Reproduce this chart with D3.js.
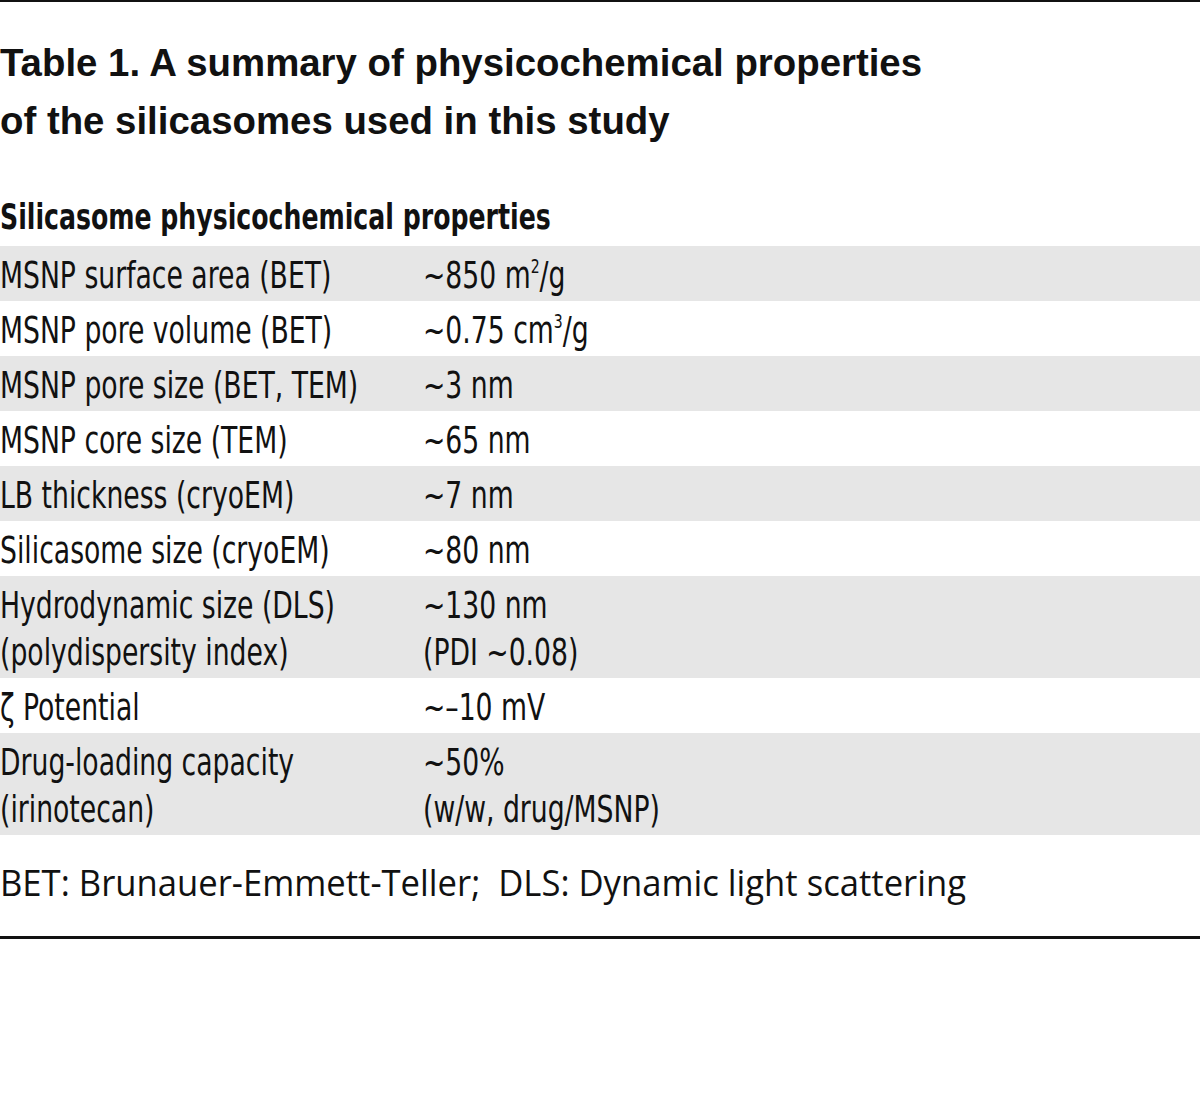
<!DOCTYPE html>
<html>
<head>
<meta charset="utf-8">
<script src="https://cdn.jsdelivr.net/npm/d3@7"></script>
<style>
  body { margin: 0; background: #fff; }
  text { fill: #111; white-space: pre; }
</style>
</head>
<body>
<div id="container"></div>
<script>
const w = 1200;
const h = 1111;

const titleLines = ["Table 1. A summary of physicochemical properties", "of the silicasomes used in this study"];
const sectionHead = "Silicasome physicochemical properties";
const properties = [
  "MSNP surface area (BET)",
  "MSNP pore volume (BET)",
  "MSNP pore size (BET, TEM)",
  "MSNP core size (TEM)",
  "LB thickness (cryoEM)",
  "Silicasome size (cryoEM)",
  "Hydrodynamic size (DLS)\n(polydispersity index)",
  "ζ Potential",
  "Drug-loading capacity\n(irinotecan)"
];
const values = [
  "~850 m^2/g",
  "~0.75 cm^3/g",
  "~3 nm",
  "~65 nm",
  "~7 nm",
  "~80 nm",
  "~130 nm\n(PDI ~0.08)",
  "~–10 mV",
  "~50%\n(w/w, drug/MSNP)"
];
const footnote = "BET: Brunauer-Emmett-Teller;  DLS: Dynamic light scattering";

const condensed = "'Liberation Sans Narrow', 'DejaVu Sans Condensed', sans-serif";
const sx = 0.78;     // squeeze to the narrow look of the original
const tableTop = 246;
const pad = 8;
const lineH = 47;

const svg = d3.select("#container").append("svg")
  .attr("width", w).attr("height", h);

// rules top and bottom
svg.append("rect").attr("x", 0).attr("y", 0).attr("width", w).attr("height", 2).attr("fill", "#111");
svg.append("rect").attr("x", 0).attr("y", 936).attr("width", w).attr("height", 3).attr("fill", "#111");

// title
svg.append("g").attr("transform", "scale(1.01,1)")
  .selectAll("text").data(titleLines).enter().append("text")
  .attr("x", 0)
  .attr("y", (d, i) => 76 + i * 58)
  .attr("font-family", "'Liberation Sans', Arial, sans-serif")
  .attr("font-weight", "bold")
  .attr("font-size", 38)
  .text(d => d);

svg.append("text")
  .attr("transform", "translate(0,229) scale(0.80,1)")
  .attr("font-family", condensed)
  .attr("font-weight", "bold")
  .attr("font-size", 35)
  .text(sectionHead);

// rows
const rows = properties.map((p, i) => {
  const left = p.split("\n");
  const right = values[i].split("\n");
  return { left, right, lines: Math.max(left.length, right.length) };
});
let acc = tableTop;
rows.forEach(r => { r.y0 = acc; r.h = pad + lineH * r.lines; acc += r.h; });

const rowG = svg.selectAll("g.row").data(rows).enter().append("g")
  .attr("class", "row")
  .attr("transform", d => "translate(0," + d.y0 + ")");

rowG.append("rect")
  .attr("x", 0).attr("width", w)
  .attr("height", d => d.h)
  .attr("fill", (d, i) => i % 2 === 0 ? "#e6e6e6" : "#fff");

function addLines(sel, key, x) {
  sel.each(function (d) {
    const g = d3.select(this).append("g")
      .attr("transform", "translate(" + x + ",0) scale(" + sx + ",1)");
    d[key].forEach((line, j) => {
      const t = g.append("text")
        .attr("x", 0)
        .attr("y", 42 + j * lineH)
        .attr("font-family", condensed)
        .attr("font-size", 38);
      let shift = 0;
      line.split(/(\^\d)/).forEach(part => {
        if (part.startsWith("^")) {
          t.append("tspan").attr("font-size", 20).attr("dy", -15).text(part.slice(1));
          shift = 15;
        } else if (part) {
          t.append("tspan").attr("dy", shift).text(part);
          shift = 0;
        }
      });
    });
  });
}
addLines(rowG, "left", 0);
addLines(rowG, "right", 423);

svg.append("text")
  .attr("transform", "translate(0,896) scale(0.962,1)")
  .attr("font-family", "'Open Sans', sans-serif")
  .attr("font-size", 36)
  .text(footnote);
</script>
</body>
</html>
